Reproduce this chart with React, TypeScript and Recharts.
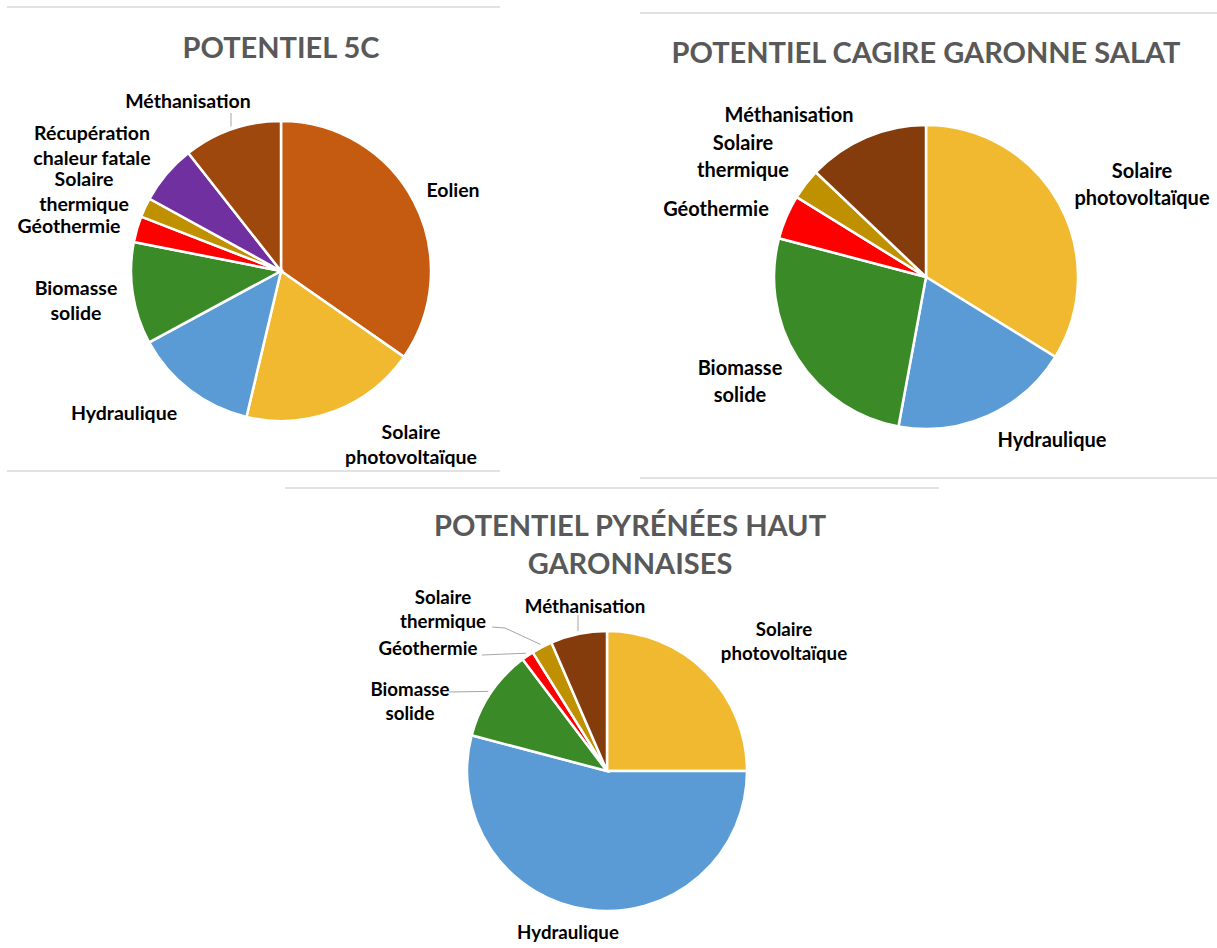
import { PieChart, Pie, Cell } from "recharts";

// POTENTIEL 5C
const cats5C = [
  "Eolien",
  "Solaire\nphotovoltaïque",
  "Hydraulique",
  "Biomasse\nsolide",
  "Géothermie",
  "Solaire\nthermique",
  "Récupération\nchaleur fatale",
  "Méthanisation",
];
const vals5C = [34.7, 19.0, 13.4, 11.0, 2.8, 2.1, 6.4, 10.6];
const colors5C = ["#C55A11", "#F0B92F", "#5B9BD5", "#3A8A27", "#FF0000", "#BF9000", "#7030A0", "#9E480E"];

// POTENTIEL CAGIRE GARONNE SALAT
const catsCagire = [
  "Solaire\nphotovoltaïque",
  "Hydraulique",
  "Biomasse\nsolide",
  "Géothermie",
  "Solaire\nthermique",
  "Méthanisation",
];
const valsCagire = [33.8, 19.1, 26.2, 4.7, 3.3, 12.9];
const colorsCagire = ["#F0B92F", "#5B9BD5", "#3A8A27", "#FF0000", "#BF9000", "#843C0C"];

// POTENTIEL PYRÉNÉES HAUT GARONNAISES
const catsPyr = [
  "Solaire\nphotovoltaïque",
  "Hydraulique",
  "Biomasse\nsolide",
  "Géothermie",
  "Solaire\nthermique",
  "Méthanisation",
];
const valsPyr = [25.0, 54.1, 10.6, 1.4, 2.4, 6.5];
const colorsPyr = ["#F0B92F", "#5B9BD5", "#3A8A27", "#FF0000", "#BF9000", "#843C0C"];

// label placement (offset of text block centre from pie centre) and leader lines
const labelPos5C = [[172, -81], [130, 173], [-157, 142], [-205, 29], [-212, -45], [-197, -80], [-189, -126], [-93, -170]];
const leaders5C = [null, null, null, null, null, null, null, [[-50, -158]]];
const labelPosCagire = [[216, -93], [126, 163], [-186, 104], [-210, -68], [-183, -121], [-137, -162]];
const leadersCagire = [null, null, null, null, null, null];
const labelPosPyr = [[177, -130], [-39, 161], [-197, -70], [-179, -123], [-164, -162], [-22, -165]];
const leadersPyr = [null, null, [[-158, -79]], [[-125, -116]], [[-115, -144], [-102, -143]], [[-29, -156]]];

const FONT = "Lato, 'Open Sans', sans-serif";
const RAD = Math.PI / 180;

function makeLabel(cats: string[], pos: number[][], leaders: any[], fontSize: number, lh: number) {
  return (props: any) => {
    const { cx, cy, midAngle, outerRadius, index } = props;
    const [dx, dy] = pos[index];
    const lines = cats[index].split("\n");
    const x = cx + dx;
    const y0 = cy + dy - ((lines.length - 1) * lh) / 2 + fontSize * 0.36;
    const lead = leaders[index];
    let line = null;
    if (lead) {
      const a = -midAngle * RAD;
      const ex = cx + (outerRadius + 3) * Math.cos(a);
      const ey = cy + (outerRadius + 3) * Math.sin(a);
      const pts = lead.map((p: number[]) => `${cx + p[0]},${cy + p[1]}`).concat(`${ex},${ey}`);
      line = <polyline points={pts.join(" ")} fill="none" stroke="#A6A6A6" strokeWidth={1} />;
    }
    return (
      <g key={`lbl-${index}`}>
        {line}
        <text x={x} y={y0} textAnchor="middle" fill="#000" fontSize={fontSize} fontWeight={700} fontFamily={FONT}>
          {lines.map((l, i) => (
            <tspan key={i} x={x} y={y0 + i * lh}>
              {l}
            </tspan>
          ))}
        </text>
      </g>
    );
  };
}

function PiePanel(props: {
  cats: string[];
  vals: number[];
  colors: string[];
  pos: number[][];
  leaders: any[];
  width: number;
  height: number;
  cx: number;
  cy: number;
  r: number;
  fontSize: number;
  lh: number;
}) {
  const data = props.cats.map((c, i) => ({ name: c, value: props.vals[i] }));
  return (
    <PieChart width={props.width} height={props.height} margin={{ top: 0, right: 0, bottom: 0, left: 0 }}>
      <Pie
        data={data}
        dataKey="value"
        nameKey="name"
        cx={props.cx}
        cy={props.cy}
        outerRadius={props.r}
        startAngle={90}
        endAngle={-270}
        stroke="#FFFFFF"
        strokeWidth={2.5}
        labelLine={false}
        label={makeLabel(props.cats, props.pos, props.leaders, props.fontSize, props.lh)}
        isAnimationActive={false}
      >
        {data.map((d, i) => (
          <Cell key={d.name + i} fill={props.colors[i]} />
        ))}
      </Pie>
    </PieChart>
  );
}

const titleStyle = { fontFamily: FONT, fontWeight: 700, fill: "#595959", fontSize: 29 };

export default function App() {
  return (
    <div style={{ position: "absolute", left: 0, top: 0, width: 1217, height: 948, background: "#fff" }}>
      <div style={{ position: "absolute", left: 7, top: 7 }}>
        <PiePanel cats={cats5C} vals={vals5C} colors={colors5C} pos={labelPos5C} leaders={leaders5C}
          width={493} height={464} cx={274} cy={264} r={150} fontSize={19.5} lh={25} />
      </div>
      <div style={{ position: "absolute", left: 640, top: 13 }}>
        <PiePanel cats={catsCagire} vals={valsCagire} colors={colorsCagire} pos={labelPosCagire} leaders={leadersCagire}
          width={577} height={465} cx={286} cy={264} r={152} fontSize={20} lh={27} />
      </div>
      <div style={{ position: "absolute", left: 285, top: 488 }}>
        <PiePanel cats={catsPyr} vals={valsPyr} colors={colorsPyr} pos={labelPosPyr} leaders={leadersPyr}
          width={654} height={460} cx={322} cy={283} r={140} fontSize={18.7} lh={24} />
      </div>
      <svg width={1217} height={948} style={{ position: "absolute", left: 0, top: 0, pointerEvents: "none" }}>
        <line x1={7} y1={7} x2={500} y2={7} stroke="#D9D9D9" strokeWidth={1.5} />
        <line x1={7} y1={471} x2={500} y2={471} stroke="#D9D9D9" strokeWidth={1.5} />
        <line x1={640} y1={13} x2={1217} y2={13} stroke="#D9D9D9" strokeWidth={1.5} />
        <line x1={640} y1={478} x2={1217} y2={478} stroke="#D9D9D9" strokeWidth={1.5} />
        <line x1={285} y1={488} x2={939} y2={488} stroke="#D9D9D9" strokeWidth={1.5} />
        <text x={281} y={58} textAnchor="middle" style={titleStyle}>POTENTIEL 5C</text>
        <text x={926} y={63} textAnchor="middle" style={titleStyle}>POTENTIEL CAGIRE GARONNE SALAT</text>
        <text x={630} y={536} textAnchor="middle" style={titleStyle}>POTENTIEL PYRÉNÉES HAUT</text>
        <text x={630} y={574} textAnchor="middle" style={titleStyle}>GARONNAISES</text>
      </svg>
    </div>
  );
}
